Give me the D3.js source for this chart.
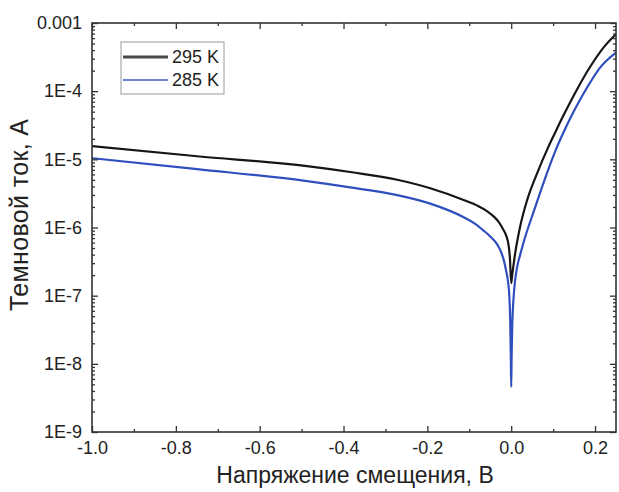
<!DOCTYPE html>
<html>
<head>
<meta charset="utf-8">
<script src="https://cdn.jsdelivr.net/npm/d3@7"></script>
<style>
  html, body { margin: 0; padding: 0; background: #fff; }
  svg { display: block; }
</style>
</head>
<body>
<svg id="chart" width="619" height="492"></svg>
<script>
// ---- data ----
const seriesNames = ["295 K", "285 K"];
const seriesColors = ["#161616", "#2f4fbf"];

const voltage295 = [-1.0, -0.749, -0.487, -0.38, -0.272, -0.193, -0.112, -0.08, -0.057, -0.04, -0.03, -0.02, -0.012, -0.006, -0.003, 0.0,
                    0.0024, 0.0095, 0.021, 0.038, 0.062, 0.086, 0.103, 0.126, 0.157, 0.188, 0.222, 0.25];
const current295 = [1.56e-5, 1.11e-5, 7.94e-6, 6.46e-6, 5.01e-6, 3.76e-6, 2.51e-6, 2.08e-6, 1.73e-6, 1.42e-6, 1.21e-6, 9.6e-7, 7.6e-7, 5.4e-7, 3.5e-7, 1.53e-7,
                    2.0e-7, 4.2e-7, 1.01e-6, 2.52e-6, 6.28e-6, 1.40e-5, 2.34e-5, 4.57e-5, 1.06e-4, 2.26e-4, 4.51e-4, 6.85e-4];

const voltage285 = [-1.0, -0.749, -0.487, -0.38, -0.272, -0.193, -0.112, -0.085, -0.064, -0.05, -0.033, -0.025, -0.017, -0.012, -0.0075, -0.0045, -0.0024, -0.001, 0.0,
                    0.001, 0.0024, 0.004, 0.007, 0.014, 0.021, 0.031, 0.055, 0.079, 0.105, 0.126, 0.150, 0.181, 0.212, 0.25];
const current285 = [1.04e-5, 7.18e-6, 4.79e-6, 3.85e-6, 2.99e-6, 2.24e-6, 1.40e-6, 1.12e-6, 8.8e-7, 7.4e-7, 5.6e-7, 4.5e-7, 3.2e-7, 2.3e-7, 1.6e-7, 1.0e-7, 4.5e-8, 1.4e-8, 4.6e-9,
                    1.26e-8, 3.5e-8, 6.3e-8, 1.21e-7, 2.6e-7, 3.9e-7, 6.5e-7, 1.81e-6, 4.89e-6, 1.31e-5, 2.58e-5, 5.15e-5, 1.13e-4, 2.22e-4, 3.69e-4];

const xTickValues = [-1.0, -0.8, -0.6, -0.4, -0.2, 0.0, 0.2];
const xTickLabels = ["-1.0", "-0.8", "-0.6", "-0.4", "-0.2", "0.0", "0.2"];
const xMinorValues = [-0.9, -0.7, -0.5, -0.3, -0.1, 0.1];
const yTickValues = [1e-3, 1e-4, 1e-5, 1e-6, 1e-7, 1e-8, 1e-9];
const yTickLabels = ["0.001", "1E-4", "1E-5", "1E-6", "1E-7", "1E-8", "1E-9"];
const xTitle = "Напряжение смещения, В";
const yTitle = "Темновой ток, А";

// ---- layout ----
const plot = { left: 92, right: 616, top: 23, bottom: 432 };
const FONT = "'Liberation Sans', Arial, Helvetica, sans-serif";
const svg = d3.select("#chart");

const x = d3.scaleLinear().domain([-1.0, 0.25]).range([plot.left, plot.right]);
const y = d3.scaleLog().domain([1e-9, 1e-3]).range([plot.bottom, plot.top]);

const yMinorValues = [];
for (let e = -9; e < -3; e++) {
  for (let m = 2; m <= 9; m++) yMinorValues.push(m * Math.pow(10, e));
}

// clip
svg.append("defs").append("clipPath").attr("id", "clip")
  .append("rect")
  .attr("x", plot.left).attr("y", plot.top)
  .attr("width", plot.right - plot.left).attr("height", plot.bottom - plot.top);

// curves
const line = d3.line()
  .x(d => x(d[0]))
  .y(d => y(d[1]))
  .curve(d3.curveMonotoneX);

const series = [
  d3.zip(voltage295, current295),
  d3.zip(voltage285, current285)
];

svg.append("g").attr("clip-path", "url(#clip)")
  .selectAll("path")
  .data(series)
  .join("path")
  .attr("d", line)
  .attr("fill", "none")
  .attr("stroke", (d, i) => seriesColors[i])
  .attr("stroke-width", 2.2)
  .attr("stroke-linejoin", "round");

// axes
const axisColor = "#333";
function styleAxis(g, showLabels) {
  g.select(".domain").remove();
  g.selectAll("line").attr("stroke", axisColor).attr("stroke-width", 1.3);
  g.selectAll("text")
    .attr("fill", "#222")
    .style("font-family", FONT)
    .style("font-size", "18px");
  if (!showLabels) g.selectAll("text").remove();
}

// bottom
svg.append("g").attr("transform", `translate(0,${plot.bottom})`)
  .call(d3.axisBottom(x).tickValues(xTickValues)
    .tickFormat((d, i) => xTickLabels[i]).tickSizeInner(-6).tickSizeOuter(0).tickPadding(9))
  .call(g => styleAxis(g, true));
svg.append("g").attr("transform", `translate(0,${plot.bottom})`)
  .call(d3.axisBottom(x).tickValues(xMinorValues).tickSizeInner(-3).tickSizeOuter(0))
  .call(g => styleAxis(g, false));
// top
svg.append("g").attr("transform", `translate(0,${plot.top})`)
  .call(d3.axisTop(x).tickValues(xTickValues).tickSizeInner(-6).tickSizeOuter(0))
  .call(g => styleAxis(g, false));
svg.append("g").attr("transform", `translate(0,${plot.top})`)
  .call(d3.axisTop(x).tickValues(xMinorValues).tickSizeInner(-3).tickSizeOuter(0))
  .call(g => styleAxis(g, false));
// left
svg.append("g").attr("transform", `translate(${plot.left},0)`)
  .call(d3.axisLeft(y).tickValues(yTickValues)
    .tickFormat((d, i) => yTickLabels[i]).tickSizeInner(-6).tickSizeOuter(0).tickPadding(10))
  .call(g => styleAxis(g, true));
svg.append("g").attr("transform", `translate(${plot.left},0)`)
  .call(d3.axisLeft(y).tickValues(yMinorValues).tickSizeInner(-3).tickSizeOuter(0))
  .call(g => styleAxis(g, false));
// right
svg.append("g").attr("transform", `translate(${plot.right},0)`)
  .call(d3.axisRight(y).tickValues(yTickValues).tickSizeInner(-6).tickSizeOuter(0))
  .call(g => styleAxis(g, false));
svg.append("g").attr("transform", `translate(${plot.right},0)`)
  .call(d3.axisRight(y).tickValues(yMinorValues).tickSizeInner(-3).tickSizeOuter(0))
  .call(g => styleAxis(g, false));

// frame
svg.append("rect")
  .attr("x", plot.left).attr("y", plot.top)
  .attr("width", plot.right - plot.left).attr("height", plot.bottom - plot.top)
  .attr("fill", "none").attr("stroke", axisColor).attr("stroke-width", 1.6);

// axis titles
svg.append("text")
  .attr("x", 355).attr("y", 483)
  .attr("text-anchor", "middle")
  .attr("fill", "#222")
  .style("font-family", FONT).style("font-size", "23px")
  .text(xTitle);

svg.append("text")
  .attr("transform", `translate(28,215) rotate(-90)`)
  .attr("text-anchor", "middle")
  .attr("fill", "#222")
  .attr("textLength", 192)
  .attr("lengthAdjust", "spacing")
  .style("font-family", FONT).style("font-size", "25px")
  .text(yTitle);

// legend
const legend = svg.append("g");
legend.append("rect")
  .attr("x", 121).attr("y", 42).attr("width", 103).attr("height", 52)
  .attr("fill", "#fff").attr("stroke", "#9a9a9a").attr("stroke-width", 1);
const legendRows = [57, 80];
const legendLineColors = ["#4a4a4a", "#3a5bc8"];
const legendLineWidths = [3.2, 1.6];
seriesNames.forEach((name, i) => {
  legend.append("line")
    .attr("x1", 123).attr("x2", 168)
    .attr("y1", legendRows[i]).attr("y2", legendRows[i])
    .attr("stroke", legendLineColors[i]).attr("stroke-width", legendLineWidths[i]);
  legend.append("text")
    .attr("x", 172).attr("y", legendRows[i])
    .attr("dy", "0.36em")
    .attr("fill", "#222")
    .style("font-family", FONT).style("font-size", "18px")
    .text(name);
});
</script>
</body>
</html>
